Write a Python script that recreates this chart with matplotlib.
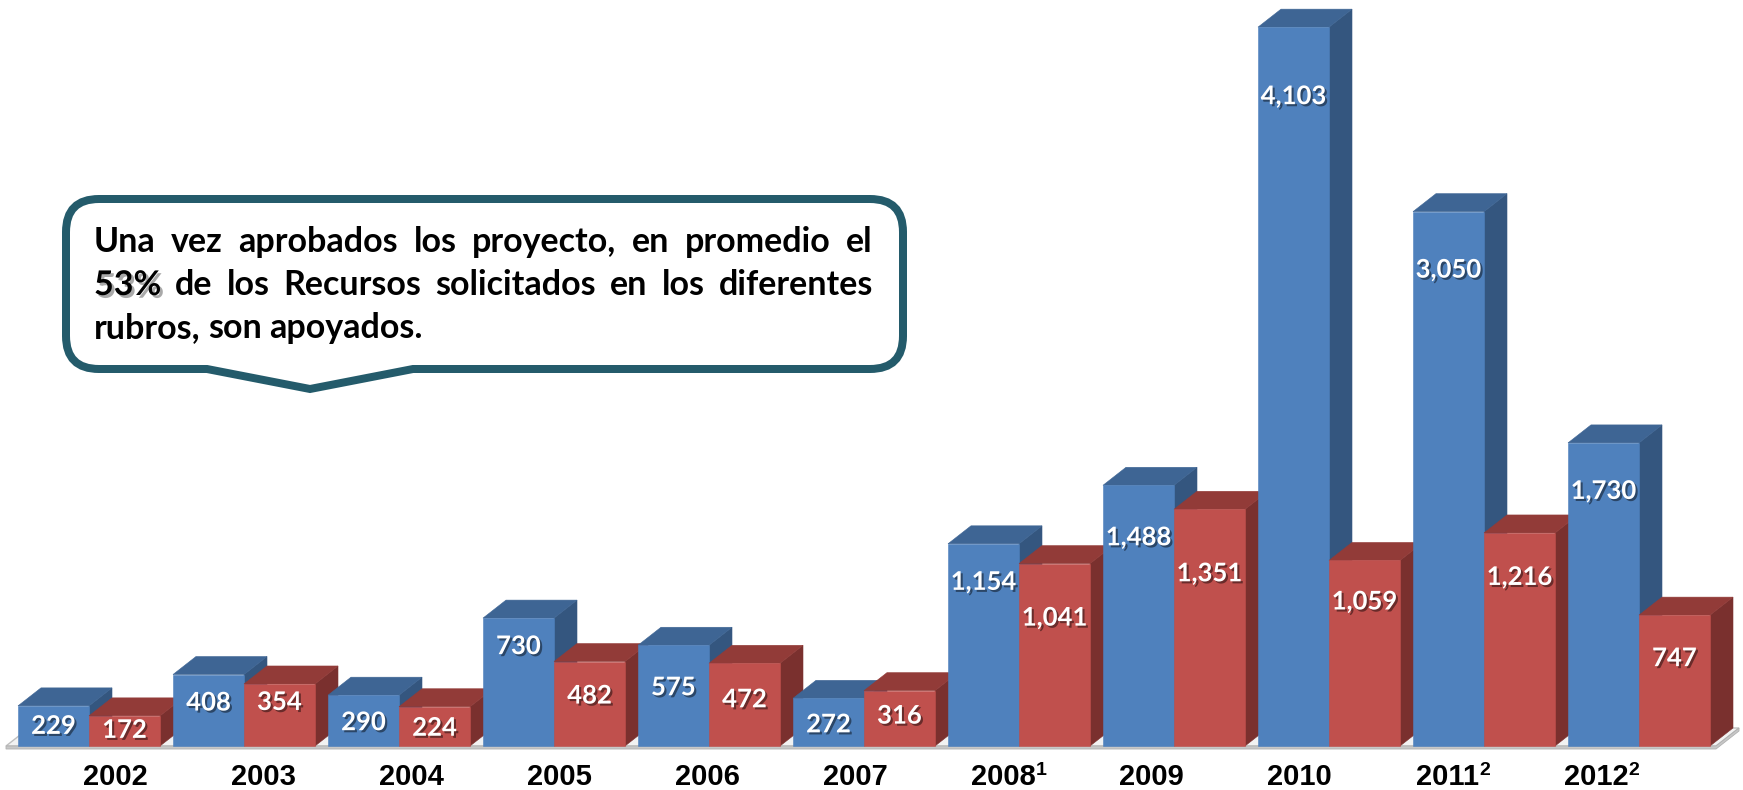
import matplotlib
matplotlib.use("Agg")
import matplotlib.pyplot as plt
import matplotlib.patheffects as pe
from matplotlib.patches import Polygon, PathPatch
from matplotlib.path import Path

years = ["2002", "2003", "2004", "2005", "2006", "2007", "2008", "2009", "2010", "2011", "2012"]
notas = ["", "", "", "", "", "", "1", "", "", "2", "2"]
solicitado = [229, 408, 290, 730, 575, 272, 1154, 1488, 4103, 3050, 1730]
apoyado = [172, 354, 224, 482, 472, 316, 1041, 1351, 1059, 1216, 747]

note_lines = [
    "Una vez aprobados los proyecto, en promedio el",
    "53% de los Recursos solicitados en los diferentes",
    "rubros, son apoyados.",
]

# how far below the bar top each value label sits (pixels)
blue_drop = [20, 28, 27, 28, 42, 26, 38, 52, 69, 58, 48]
red_drop = [14, 18, 21, 34, 36, 25, 54, 64, 41, 44, 43]

W, H = 1743, 790
fig = plt.figure(figsize=(W / 100, H / 100), dpi=100)
ax = fig.add_axes([0, 0, 1, 1])
ax.axis("off")

# layout in pixels
x0_px, step_px = 89, 155
base_px, px_unit = 746, 0.1752
ax.set_xlim(-x0_px / step_px, (W - x0_px) / step_px)
ax.set_ylim(-(H - base_px) / px_unit, base_px / px_unit)

bw = 71 / step_px
dx = 23 / step_px
dy = 18 / px_unit

blue = ("#4F81BD", "#3E6594", "#34567F")
red = ("#C0504D", "#923B38", "#7A302E")


def box3d(xl, h, cols):
    front, top, side = cols
    ax.add_patch(Polygon([(xl + bw, 0), (xl + bw + dx, dy), (xl + bw + dx, h + dy), (xl + bw, h)],
                         closed=True, fc=side, ec=side, lw=0.4))
    ax.add_patch(Polygon([(xl, h), (xl + dx, h + dy), (xl + bw + dx, h + dy), (xl + bw, h)],
                         closed=True, fc=top, ec=top, lw=0.4))
    ax.bar(xl, h, width=bw, align="edge", color=front, edgecolor=front, linewidth=0.4)


# floor
fl = (6 - x0_px) / step_px
fr = (1716 - x0_px) / step_px
ax.add_patch(Polygon([(fl, 0), (fl + dx, dy), (fr + dx, dy), (fr, 0)], closed=True,
                     fc="#F2F2F2", ec="#BFBFBF", lw=1))
ax.add_patch(Polygon([(fl, 0), (fr, 0), (fr + dx, dy), (fr + dx, dy - 3 / px_unit),
                      (fr, -3 / px_unit), (fl, -3 / px_unit)], closed=True,
                     fc="#C8C8C8", ec="#B0B0B0", lw=0.6))

shadow = [pe.withSimplePatchShadow(offset=(1.5, -1.5), shadow_rgbFace="black", alpha=0.45)]

for i in range(len(years)):
    box3d(i - bw, solicitado[i], blue)
    box3d(i, apoyado[i], red)

for i in range(len(years)):
    ax.annotate(f"{solicitado[i]:,}", (i - bw / 2, solicitado[i]), xytext=(0, -blue_drop[i]),
                textcoords="offset pixels", ha="center", va="center", color="white",
                fontsize=18.5, fontweight="bold", family="Lato", path_effects=shadow, zorder=5)
    ax.annotate(f"{apoyado[i]:,}", (i + bw / 2, apoyado[i]), xytext=(0, -red_drop[i]),
                textcoords="offset pixels", ha="center", va="center", color="white",
                fontsize=18.5, fontweight="bold", family="Lato", path_effects=shadow, zorder=5)

# year labels (the label row is a little tighter than the bars)
lab_y = -(785 - base_px) / px_unit
for i, y in enumerate(years):
    lx = (115 + 148.1 * i - x0_px) / step_px
    t = ax.text(lx, lab_y, y, ha="center", va="baseline", fontsize=21, fontweight="bold",
                family="Liberation Sans", color="black")
    if notas[i]:
        ax.annotate(notas[i], xy=(1, 1), xycoords=t, xytext=(0, 1), textcoords="offset pixels",
                    ha="left", va="top", fontsize=14, fontweight="bold",
                    family="Liberation Sans", color="black")


# callout box
def ff(xp, yp):
    return xp / W, 1 - yp / H


L, R, T, B, r = 66, 903, 199, 369, 33
pts = [
    ((L + r, T), Path.MOVETO),
    ((R - r, T), Path.LINETO),
    ((R, T), Path.CURVE3), ((R, T + r), Path.CURVE3),
    ((R, B - r), Path.LINETO),
    ((R, B), Path.CURVE3), ((R - r, B), Path.CURVE3),
    ((413, B), Path.LINETO),
    ((310, 389), Path.LINETO),
    ((207, B), Path.LINETO),
    ((L + r, B), Path.LINETO),
    ((L, B), Path.CURVE3), ((L, B - r), Path.CURVE3),
    ((L, T + r), Path.LINETO),
    ((L, T), Path.CURVE3), ((L + r, T), Path.CURVE3),
    ((L + r, T), Path.CLOSEPOLY),
]
verts = [ff(*p) for p, _ in pts]
codes = [c for _, c in pts]
callout = PathPatch(Path(verts, codes), transform=fig.transFigure, fc="white", ec="#245B6B",
                    lw=8 * 72 / 100, joinstyle="miter", zorder=2)
fig.add_artist(callout)

renderer = fig.canvas.get_renderer()
left_px, right_px = 94, 873
baselines = [252, 295, 338]
fs = 24.5
glow = [pe.withSimplePatchShadow(offset=(2, -2), shadow_rgbFace="#555555", alpha=0.5)]
for li, line in enumerate(note_lines):
    words = line.split(" ")
    texts = []
    for w in words:
        t = fig.text(0, 0, w, fontsize=fs, fontweight="bold", family="Lato",
                     va="baseline", ha="left", color="black", zorder=3)
        if w == "53%":
            t.set_path_effects(glow)
        texts.append(t)
    widths = [t.get_window_extent(renderer).width for t in texts]
    if li < len(note_lines) - 1:
        gap = (right_px - left_px - sum(widths)) / (len(words) - 1)
    else:
        gap = fs * 100 / 72 * 0.22
    xp = left_px
    for t, wd in zip(texts, widths):
        t.set_position(ff(xp, baselines[li]))
        xp += wd + gap

fig.savefig("out.png", dpi=100, facecolor="white")
